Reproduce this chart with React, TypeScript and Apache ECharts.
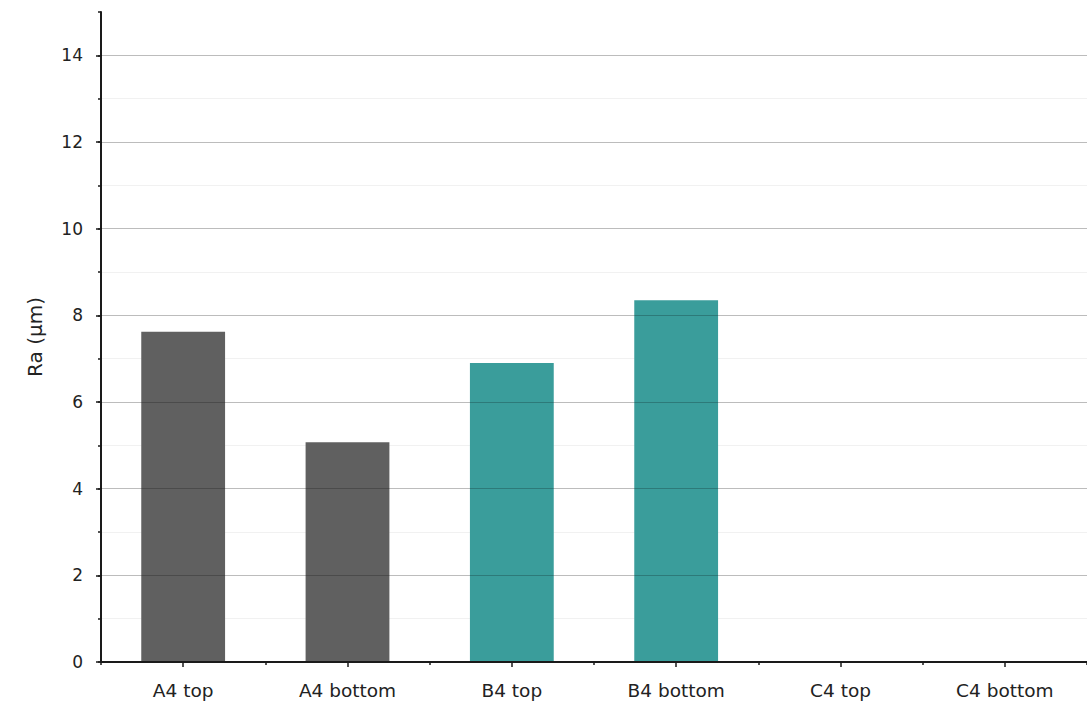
import React, { useEffect, useRef } from "react";
import * as echarts from "echarts";

// Surface roughness per sample face
const categories = ["A4 top", "A4 bottom", "B4 top", "B4 bottom", "C4 top", "C4 bottom"];
const raValues: (number | null)[] = [7.62, 5.07, 6.9, 8.35, null, null];
const sampleGroup = ["A", "A", "B", "B", "C", "C"];
const groupColors: Record<string, string> = { A: "#606060", B: "#3a9d9b", C: "#c0504d" };
const majorTicks = [0, 2, 4, 6, 8, 10, 12, 14];

const FONT = "DejaVu Sans";

export default function App() {
  const ref = useRef<HTMLDivElement>(null);

  useEffect(() => {
    if (!ref.current) return;
    const chart = echarts.init(ref.current, null, { renderer: "svg" });

    const barData = raValues.map((v, i) => ({
      value: v,
      itemStyle: { color: groupColors[sampleGroup[i]] },
    }));

    chart.setOption({
      animation: false,
      backgroundColor: "#ffffff",
      grid: { left: 101, right: -3, top: 12, bottom: 49, containLabel: false },
      xAxis: [
        {
          type: "category",
          data: categories,
          position: "bottom",
          boundaryGap: true,
          axisLine: { show: true, lineStyle: { color: "#1a1a1a", width: 2 } },
          axisTick: { show: true, alignWithLabel: true, length: 5, lineStyle: { color: "#1a1a1a", width: 1.5 } },
          axisLabel: { fontFamily: FONT, fontSize: 18.5, color: "#222222", margin: 19 },
          splitLine: { show: false },
          z: 4,
        },
        {
          type: "category",
          data: categories,
          position: "bottom",
          boundaryGap: true,
          axisLine: { show: false },
          axisTick: { show: true, length: 3, lineStyle: { color: "#1a1a1a", width: 1.5 } },
          axisLabel: { show: false },
          splitLine: { show: false },
          z: 4,
        },
      ],
      yAxis: [
        {
          // minor ticks and faint minor grid lines, behind the bars
          type: "value",
          position: "left",
          min: 0,
          max: 15,
          interval: 1,
          axisLine: { show: true, lineStyle: { color: "#1a1a1a", width: 2 } },
          axisTick: { show: true, length: 3, lineStyle: { color: "#1a1a1a", width: 1.5 } },
          axisLabel: { show: false },
          splitLine: { show: true, showMinLine: false, showMaxLine: false, lineStyle: { color: "#f1f1f1", width: 1 } },
          z: 0,
        },
        {
          // major ticks, labels and grid lines, drawn across the bars
          type: "value",
          position: "left",
          min: 0,
          max: 15,
          interval: 2,
          name: "Ra (μm)",
          nameLocation: "middle",
          nameGap: 56,
          nameTextStyle: { fontFamily: FONT, fontSize: 20, color: "#222222" },
          axisLine: { show: false },
          axisTick: { show: true, length: 5, customValues: majorTicks, lineStyle: { color: "#1a1a1a", width: 1.5 } },
          axisLabel: {
            customValues: majorTicks,
            fontFamily: FONT,
            fontSize: 17,
            color: "#222222",
            margin: 18,
          },
          splitLine: { show: true, showMinLine: false, showMaxLine: true, lineStyle: { color: "rgba(0,0,0,0.22)", width: 1 } },
          z: 3,
        },
      ],
      series: [
        {
          type: "bar",
          xAxisIndex: 0,
          yAxisIndex: 0,
          data: barData,
          barWidth: "51%",
          z: 2,
        },
      ],
    });

    return () => chart.dispose();
  }, []);

  return (
    <div
      ref={ref}
      style={{ position: "fixed", left: 0, top: 0, width: "1087px", height: "711px" }}
    />
  );
}
